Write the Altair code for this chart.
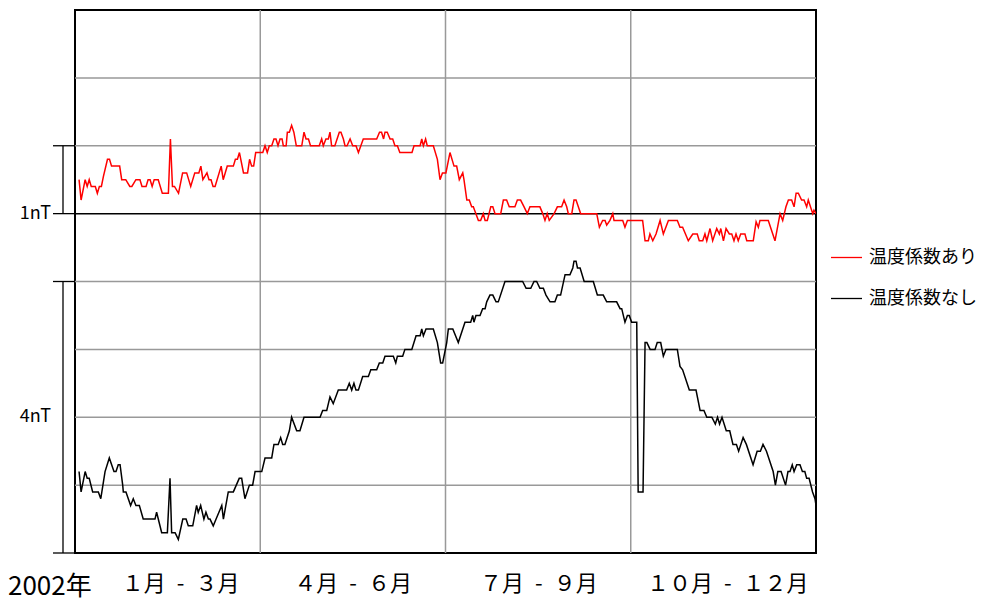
import altair as alt
import pandas as pd

series_names = ["温度係数あり", "温度係数なし"]
series_colors = ["#ff0000", "#000000"]

# 温度係数あり (red) : day of year, value in grid units (1 grid = 1nT)
red_day = [2, 3, 5, 6, 7, 8, 10, 11, 12, 13, 14, 16, 17, 18, 22, 23, 25, 27, 28, 30,
           32, 33, 35, 36, 37, 38, 39, 41, 43, 46, 47, 48, 49, 51, 53, 55, 57, 59, 61, 62,
           63, 65, 66, 67, 68, 69, 72, 73, 75, 78, 79, 80, 81, 83, 85, 86, 87, 88, 89, 92.5,
           93.6, 94.7, 95.7, 96.9, 98, 99, 100, 101, 102, 102.6, 104, 104.6, 105.6, 106.7, 107.8, 109, 111.7, 112.8, 113.8, 115,
           116, 120.3, 121.5, 122.3, 123.6, 124.8, 125.6, 126.4, 128, 130.2, 131, 132.2, 133, 134, 135.5, 136.8, 138.4, 139.6, 142, 148.6,
           150, 151, 152, 152.7, 153.8, 155.2, 156.5, 157.6, 158.8, 160, 166, 167, 170, 170.8, 171.6, 172.7, 173.5, 176.5, 178.5, 179.8,
           181, 182.7, 184.7, 186.7, 188, 189.3, 191, 191.6, 193, 194.2, 195.4, 196.2, 198.7, 199.8, 201.1, 202, 203.1, 204.8, 205.8, 206.9,
           209.7, 211, 212.6, 213.9, 216.7, 217.9, 219.5, 221.2, 222.8, 224.1, 229, 230.4, 231.5, 232.6, 233.6, 236, 237.6, 239.7, 240.9, 242.2,
           243, 244.7, 245.8, 246.8, 249.1, 257, 258.3, 259.9, 261.1, 261.9, 263.5, 264.9, 265.5, 269.8, 270.9, 272.1, 279.6, 280.8, 282.4, 283.2,
           284.6, 286.2, 288.2, 289.8, 292.3, 296.7, 298, 299.3, 302.1, 304.3, 306.5, 307.5, 309.2, 310.3, 311.2, 312.8, 314.1, 316.1, 317.4, 318.1,
           319.4, 320.7, 322.3, 323.5, 324.6, 325.6, 326.7, 327.9, 330, 330.9, 334.1, 335.5, 336.6, 337.4, 341.5, 344.8, 347.3, 348.6, 350.2, 351.4,
           353, 354.2, 355.2, 356.3, 357.9, 359.1, 360.4, 361.2, 363.4, 364, 365]
red_val = [5.5, 5.2, 5.5, 5.4, 5.5, 5.4, 5.4, 5.3, 5.4, 5.4, 5.55, 5.8, 5.8, 5.7, 5.7, 5.5, 5.5, 5.4, 5.4, 5.5,
           5.5, 5.4, 5.4, 5.5, 5.5, 5.4, 5.5, 5.5, 5.3, 5.3, 6.1, 5.4, 5.4, 5.3, 5.6, 5.6, 5.4, 5.6, 5.6, 5.7,
           5.5, 5.6, 5.5, 5.5, 5.4, 5.4, 5.7, 5.5, 5.7, 5.7, 5.8, 5.8, 5.9, 5.6, 5.6, 5.8, 5.7, 5.7, 5.9, 5.9,
           6.0, 5.9, 6.0, 6.0, 6.1, 6.1, 6.0, 6.1, 6.1, 6.0, 6.0, 6.2, 6.2, 6.3, 6.2, 6.0, 6.0, 6.2, 6.1, 6.1,
           6.0, 6.0, 6.1, 6.0, 6.1, 6.1, 6.2, 6.0, 6.0, 6.2, 6.2, 6.1, 6.0, 6.0, 6.1, 6.0, 6.0, 5.9, 6.1, 6.1,
           6.2, 6.2, 6.1, 6.2, 6.2, 6.1, 6.1, 6.0, 6.0, 5.9, 5.9, 6.0, 6.0, 6.1, 6.0, 6.1, 6.0, 6.0, 5.8, 5.5,
           5.6, 5.6, 5.9, 5.7, 5.7, 5.5, 5.6, 5.5, 5.2, 5.2, 5.1, 5.1, 4.9, 4.9, 5.0, 4.9, 4.9, 5.1, 5.1, 5.0,
           5.0, 5.2, 5.2, 5.1, 5.1, 5.2, 5.2, 5.1, 5.0, 5.1, 5.1, 5.0, 4.9, 5.0, 4.9, 5.0, 5.1, 5.1, 5.2, 5.1,
           5.0, 5.0, 5.2, 5.2, 5.0, 5.0, 4.8, 4.9, 4.9, 4.83, 4.9, 5.0, 4.9, 4.9, 4.8, 4.9, 4.9, 4.6, 4.6, 4.7,
           4.6, 4.7, 4.9, 4.7, 4.9, 4.9, 4.8, 4.8, 4.6, 4.7, 4.7, 4.6, 4.6, 4.7, 4.6, 4.78, 4.6, 4.78, 4.7, 4.78,
           4.6, 4.78, 4.7, 4.7, 4.6, 4.7, 4.6, 4.7, 4.7, 4.6, 4.6, 4.88, 4.8, 4.9, 4.9, 4.6, 5.0, 4.9, 5.1, 5.2,
           5.2, 5.1, 5.3, 5.3, 5.2, 5.2, 5.1, 5.2, 5.0, 5.05, 5.0]

# 温度係数なし (black)
black_day = [2, 3, 5, 6, 7, 8.7, 11.5, 12.7, 14.8, 16.9, 19.2, 20.2, 21.3, 22.2, 23.5, 23.8, 25.1, 27.4, 28.7, 30,
             31.7, 33.6, 39.4, 40.2, 42.7, 45.5, 46.8, 47.6, 49.3, 50.9, 53.1, 54.7, 55.8, 58, 59.9, 60.7, 61.9, 63.5, 64.5, 65.7,
             66.5, 68.1, 69.5, 72.3, 73.1, 75.5, 78, 80.9, 82.1, 83.7, 85.9, 87.5, 88.7, 92, 93.6, 96.9, 98, 100.1, 101.3, 102.3,
             103.4, 105.6, 106.7, 109.2, 110.8, 112.8, 120.7, 122, 124, 125.6, 127.2, 129.7, 133.8, 135.1, 136.3, 137.4, 138.4, 139.6, 141.7, 144.5,
             145.7, 148.6, 149.9, 151.6, 152.7, 156.8, 158, 158.8, 161.4, 162.5, 165.9, 168, 170, 170.8, 171.6, 172.9, 176.5, 178.5, 180.1, 181.1,
             183.1, 183.9, 186.1, 188.8, 192.1, 194.9, 195.9, 196.5, 197.5, 199.5, 200.8, 202, 202.8, 204.4, 205.8, 207.4, 208.5, 211.8, 220.5, 222.2,
             224.5, 226.1, 227.4, 229, 230.7, 232, 234, 236.4, 237.6, 239.2, 241.4, 243.8, 245.2, 245.8, 246.8, 247.5, 248.8, 250.8, 255.3, 257.3,
             260.2, 261.9, 266.8, 268.5, 269.3, 270.9, 272.1, 273, 274.2, 276.7, 277.4, 279.8, 280.8, 281.7, 283.3, 285.7, 286.8, 288.5, 289.8, 291.1,
             296.7, 298, 299.3, 302.6, 305.9, 307.9, 309.8, 311.2, 313.7, 315.4, 316.5, 317.5, 318.7, 320.8, 322.5, 324.1, 325.8, 326.9, 329.1, 330.7,
             334, 336, 337.6, 338.9, 340.6, 341.7, 343.9, 345, 346.2, 347.8, 350, 351.2, 352.2, 353.3, 354.2, 355.5, 357.1, 358.3, 359.5, 360.4,
             361.6, 363.3, 364.5, 365]
black_val = [1.2, 0.9, 1.2, 1.1, 1.1, 0.9, 0.9, 0.8, 1.2, 1.4, 1.2, 1.2, 1.3, 1.3, 1.0, 0.9, 0.9, 0.7, 0.8, 0.7,
             0.7, 0.5, 0.5, 0.6, 0.3, 0.3, 1.1, 0.3, 0.3, 0.2, 0.5, 0.5, 0.4, 0.4, 0.7, 0.6, 0.7, 0.5, 0.6, 0.5,
             0.5, 0.4, 0.5, 0.7, 0.5, 0.9, 0.9, 1.1, 1.1, 0.8, 1.0, 1.0, 1.2, 1.2, 1.4, 1.4, 1.6, 1.6, 1.7, 1.6,
             1.6, 1.8, 2.0, 1.8, 1.8, 2.0, 2.0, 2.1, 2.1, 2.3, 2.2, 2.4, 2.4, 2.5, 2.4, 2.5, 2.4, 2.4, 2.6, 2.6,
             2.7, 2.7, 2.8, 2.8, 2.9, 2.9, 2.8, 2.9, 2.9, 3.0, 3.0, 3.2, 3.2, 3.3, 3.2, 3.3, 3.3, 3.1, 2.8, 2.8,
             3.1, 3.3, 3.3, 3.1, 3.4, 3.4, 3.5, 3.4, 3.5, 3.5, 3.6, 3.6, 3.7, 3.8, 3.8, 3.7, 3.7, 4.0, 4.0, 3.9,
             3.9, 4.0, 4.0, 3.9, 3.9, 3.8, 3.7, 3.7, 3.8, 3.8, 4.1, 4.1, 4.2, 4.3, 4.3, 4.2, 4.2, 4.0, 4.0, 3.8,
             3.8, 3.7, 3.7, 3.6, 3.6, 3.4, 3.5, 3.5, 3.4, 3.4, 0.9, 0.9, 3.1, 3.1, 3.0, 3.0, 3.1, 3.1, 2.9, 3.0,
             3.0, 2.75, 2.7, 2.4, 2.4, 2.1, 2.1, 2.0, 2.0, 1.9, 2.0, 1.9, 2.0, 1.8, 1.8, 1.6, 1.6, 1.5, 1.7, 1.6,
             1.3, 1.5, 1.5, 1.6, 1.5, 1.4, 1.2, 1.0, 1.2, 1.2, 1.0, 1.2, 1.2, 1.3, 1.2, 1.3, 1.3, 1.2, 1.2, 1.1,
             1.1, 0.9, 0.8, 0.7]

quarter_bounds = [91.25, 182.5, 273.75]
h_grid = [1, 2, 3, 4, 6, 7]
x_labels = ["１月\u2002-\u2002３月", "４月\u2002-\u2002６月", "７月\u2002-\u2002９月", "１０月\u2002-\u2002１２月"]
x_label_days = [52, 137, 228.5, 321.5]
scale_labels = ["1nT", "4nT"]
scale_label_pos = [5, 2]
bracket_top = [6, 4]
bracket_bottom = [5, 0]
bracket_ticks = [6, 5, 4, 0]
reference_level = [5]
year_label = "2002年"

FONT = "Noto Sans CJK JP"
GRID = "#999999"

df = pd.concat([
    pd.DataFrame({"series": series_names[0], "day": red_day, "value": red_val}),
    pd.DataFrame({"series": series_names[1], "day": black_day, "value": black_val}),
])

xscale = alt.Scale(domain=[0, 365], nice=False, zero=False)
yscale = alt.Scale(domain=[0, 8], nice=False, zero=False)

hgrid = alt.Chart(pd.DataFrame({"y": h_grid})).mark_rule(color=GRID, strokeWidth=1.5).encode(
    y=alt.Y("y:Q", scale=yscale, axis=None))

vgrid = alt.Chart(pd.DataFrame({"x": quarter_bounds})).mark_rule(color=GRID, strokeWidth=1.5).encode(
    x=alt.X("x:Q", scale=xscale, axis=None))

ref = alt.Chart(pd.DataFrame({"y": reference_level})).mark_rule(
    color="#000000", strokeWidth=1.5).encode(y=alt.Y("y:Q", scale=yscale, axis=None))

lines = alt.Chart(df).mark_line(strokeWidth=1.5, clip=True).encode(
    x=alt.X("day:Q", scale=xscale, axis=None),
    y=alt.Y("value:Q", scale=yscale, axis=None),
    color=alt.Color("series:N", sort=series_names,
                    scale=alt.Scale(domain=series_names, range=series_colors),
                    legend=alt.Legend(title=None, orient="none", legendX=755, legendY=231,
                                      symbolType="stroke", symbolSize=961, symbolStrokeWidth=1.3,
                                      labelFontSize=18, labelFont=FONT, labelOffset=6,
                                      rowPadding=15, labelColor="#000000")),
    order=alt.Order("day:Q"),
)

brackets = alt.Chart(pd.DataFrame({"y": bracket_top, "y2": bracket_bottom})).mark_rule(
    color="#000000", strokeWidth=1.3, clip=False).encode(
    y=alt.Y("y:Q", scale=yscale, axis=None), y2="y2:Q", x=alt.value(-12))

ticks = alt.Chart(pd.DataFrame({"y": bracket_ticks})).mark_rule(
    color="#000000", strokeWidth=1.3, clip=False).encode(
    y=alt.Y("y:Q", scale=yscale, axis=None), x=alt.value(-22), x2=alt.value(0))

scale_text = alt.Chart(pd.DataFrame({"y": scale_label_pos, "t": scale_labels})).mark_text(
    align="right", baseline="middle", fontSize=18, font=FONT, color="#000000").encode(
    y=alt.Y("y:Q", scale=yscale, axis=None), x=alt.value(-24), text="t:N")

xlab = alt.Chart(pd.DataFrame({"day": x_label_days, "t": x_labels})).mark_text(
    align="center", baseline="alphabetic", fontSize=22, font=FONT, color="#000000").encode(
    x=alt.X("day:Q", scale=xscale, axis=None), y=alt.value(581), text="t:N")

year = alt.Chart(pd.DataFrame({"t": [year_label]})).mark_text(
    align="left", baseline="alphabetic", fontSize=26, font=FONT, color="#000000").encode(
    x=alt.value(-67), y=alt.value(585), text="t:N")

chart = alt.layer(hgrid, vgrid, ref, lines, brackets, ticks, scale_text, xlab, year).properties(
    width=741, height=543,
    background="white",
    autosize=alt.AutoSizeParams(type="none"),
    padding={"left": 67, "top": 2, "right": 163, "bottom": 52},
).configure_view(stroke="#000000", strokeWidth=2)

chart.save("out.html", embed_options={"renderer": "svg", "actions": False})
